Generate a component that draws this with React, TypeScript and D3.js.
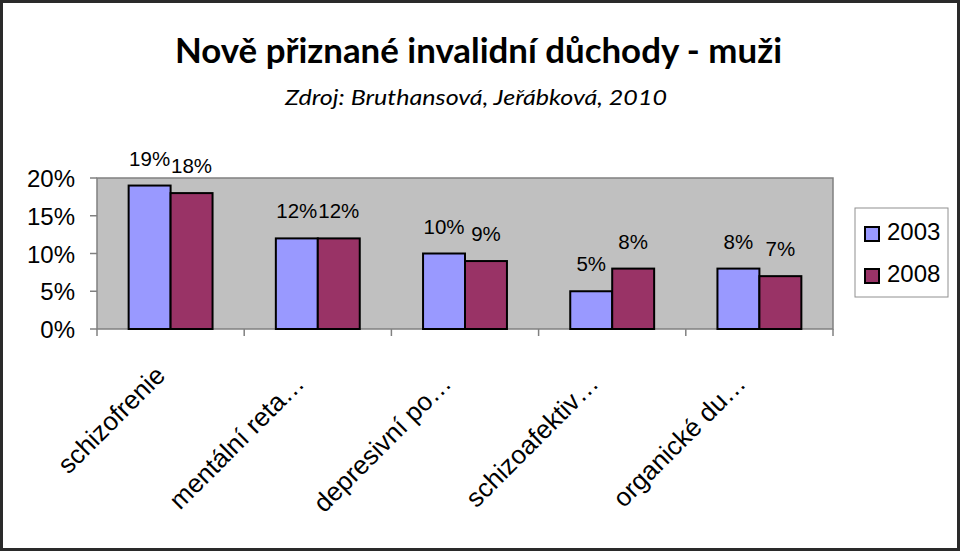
import * as d3 from 'd3';

const categories = [
  'schizofrenie',
  'mentální reta…',
  'depresivní po…',
  'schizoafektiv…',
  'organické du…',
];
const years = ['2003', '2008'];
const values2003 = [19, 12, 10, 5, 8];
const values2008 = [18, 12, 9, 8, 7];
const yTicks = [0, 5, 10, 15, 20];

const W = 960;
const H = 551;
const plot = { left: 97, right: 833, top: 178, bottom: 329 };
const colors = ['#9999ff', '#993366'];
const arial = '"Liberation Sans", Arial, sans-serif';
const calibri = 'Lato, "Open Sans", sans-serif';

const x0 = d3
  .scaleBand<string>()
  .domain(categories)
  .range([plot.left, plot.right])
  .paddingInner(0.43)
  .paddingOuter(0.215);
const x1 = d3.scaleBand<string>().domain(years).range([0, x0.bandwidth()]);
const y = d3.scaleLinear().domain([0, 20]).range([plot.bottom, plot.top]);

const series = [values2003, values2008];

export default function App() {
  const step = x0.step();
  const boundaries = d3.range(categories.length + 1).map((i) => plot.left + i * step);

  return (
    <svg
      width={W}
      height={H}
      style={{ position: 'absolute', left: 0, top: 0, background: '#fff' }}
    >
      <rect x={1.5} y={1.5} width={W - 3} height={H - 3} fill="#fff" stroke="#2a2a2a" strokeWidth={3} />

      <text
        x={478.5}
        y={63}
        textAnchor="middle"
        fontFamily={calibri}
        fontWeight="bold"
        fontSize={35}
        textLength={607}
        lengthAdjust="spacingAndGlyphs"
      >
        Nově přiznané invalidní důchody - muži
      </text>
      <text
        x={476}
        y={105}
        textAnchor="middle"
        fontFamily={calibri}
        fontStyle="italic"
        fontSize={21}
        textLength={382}
        lengthAdjust="spacingAndGlyphs"
      >
        Zdroj: Bruthansová, Jeřábková, 2010
      </text>

      {/* plot area */}
      <rect
        x={plot.left}
        y={plot.top}
        width={plot.right - plot.left}
        height={plot.bottom - plot.top}
        fill="#c0c0c0"
        stroke="#808080"
        strokeWidth={1.5}
      />

      {/* y axis */}
      <g fontFamily={arial} fontSize={24}>
        {yTicks.map((t) => (
          <g key={t}>
            <line x1={plot.left - 7} x2={plot.left} y1={y(t)} y2={y(t)} stroke="#808080" strokeWidth={1.5} />
            <text x={75} y={y(t) + 9} textAnchor="end">
              {t}%
            </text>
          </g>
        ))}
      </g>

      {/* x axis ticks */}
      {boundaries.map((bx, i) => (
        <line key={i} x1={bx} x2={bx} y1={plot.bottom} y2={plot.bottom + 7} stroke="#808080" strokeWidth={1.5} />
      ))}

      {/* bars */}
      {categories.map((c, ci) => (
        <g key={c} transform={`translate(${x0(c)},0)`}>
          {years.map((yr, si) => {
            const v = series[si][ci];
            const bx = x1(yr)!;
            return (
              <g key={yr}>
                <rect
                  x={bx}
                  y={y(v)}
                  width={x1.bandwidth()}
                  height={plot.bottom - y(v)}
                  fill={colors[si]}
                  stroke="#000"
                  strokeWidth={2}
                />
                <text
                  x={bx + x1.bandwidth() / 2}
                  y={y(v) - 20}
                  textAnchor="middle"
                  fontFamily={arial}
                  fontSize={20.5}
                >
                  {v}%
                </text>
              </g>
            );
          })}
        </g>
      ))}

      {/* category labels; truncated ones sit a bit further along */}
      {categories.map((c) => {
        const cx = x0(c)! + x0.bandwidth() / 2;
        const cut = c.endsWith('…') ? 8 : 0;
        return (
          <text
            key={c}
            transform={`translate(${cx - 4 - cut},${plot.bottom + 48 + cut}) rotate(-45)`}
            textAnchor="end"
            fontFamily={arial}
            fontSize={26}
          >
            {c}
          </text>
        );
      })}

      {/* legend */}
      <g fontFamily={arial} fontSize={24}>
        <rect x={855} y={208} width={93} height={89} fill="#fff" stroke="#909090" strokeWidth={1} />
        {years.map((yr, i) => (
          <g key={yr} transform={`translate(0,${i * 42})`}>
            <rect x={865} y={227} width={14} height={14} fill={colors[i]} stroke="#000" strokeWidth={2} />
            <text x={887} y={239.5}>
              {yr}
            </text>
          </g>
        ))}
      </g>
    </svg>
  );
}
